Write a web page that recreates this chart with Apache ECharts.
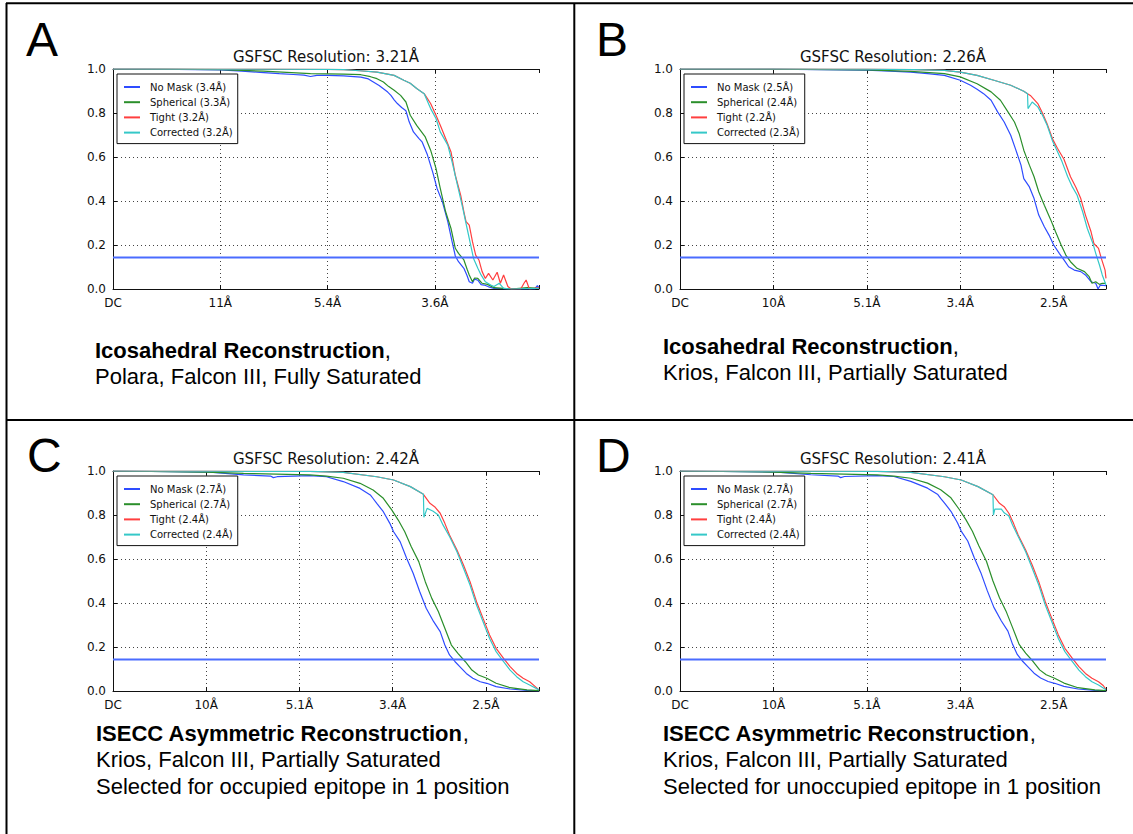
<!DOCTYPE html>
<html><head><meta charset="utf-8">
<script src="https://cdn.jsdelivr.net/npm/echarts@6/dist/echarts.min.js"></script>
<style>html,body{margin:0;padding:0;background:#fff}#chart{width:1133px;height:834px}</style>
</head><body><div id="chart"></div>
<script>
// ---------- tick labels ----------
const ticksA = ['DC', '11Å', '5.4Å', '3.6Å'];
const ticksB = ['DC', '10Å', '5.1Å', '3.4Å', '2.5Å'];
const ticksC = ['DC', '10Å', '5.1Å', '3.4Å', '2.5Å'];
const ticksD = ['DC', '10Å', '5.1Å', '3.4Å', '2.5Å'];
const threshold = 0.143;

// ---------- titles / legends / captions ----------
const titleA = 'GSFSC Resolution: 3.21Å';
const titleB = 'GSFSC Resolution: 2.26Å';
const titleC = 'GSFSC Resolution: 2.42Å';
const titleD = 'GSFSC Resolution: 2.41Å';
const namesA = ['No Mask (3.4Å)', 'Spherical (3.3Å)', 'Tight (3.2Å)', 'Corrected (3.2Å)'];
const namesB = ['No Mask (2.5Å)', 'Spherical (2.4Å)', 'Tight (2.2Å)', 'Corrected (2.3Å)'];
const namesC = ['No Mask (2.7Å)', 'Spherical (2.7Å)', 'Tight (2.4Å)', 'Corrected (2.4Å)'];
const namesD = ['No Mask (2.7Å)', 'Spherical (2.7Å)', 'Tight (2.4Å)', 'Corrected (2.4Å)'];
const captionA = ['Icosahedral Reconstruction', 'Polara, Falcon III, Fully Saturated'];
const captionB = ['Icosahedral Reconstruction', 'Krios, Falcon III, Partially Saturated'];
const captionC = ['ISECC Asymmetric Reconstruction', 'Krios, Falcon III, Partially Saturated', 'Selected for occupied epitope in 1 position'];
const captionD = ['ISECC Asymmetric Reconstruction', 'Krios, Falcon III, Partially Saturated', 'Selected for unoccupied epitope in 1 position'];

// ---------- curves: [x in tick units from DC, FSC] ----------
const A_noMask = [[0,1.0],[0.3,0.999],[0.6,0.998],[1.0,0.996],[1.2,0.99],[1.37,0.985],[1.55,0.979],[1.68,0.975],[1.78,0.972],[1.84,0.966],[1.9,0.971],[2.0,0.971],[2.15,0.969],[2.31,0.963],[2.38,0.955],[2.43,0.94],[2.48,0.925],[2.52,0.91],[2.56,0.895],[2.59,0.88],[2.62,0.86],[2.65,0.843],[2.69,0.825],[2.73,0.81],[2.76,0.76],[2.80,0.714],[2.85,0.685],[2.88,0.669],[2.93,0.61],[2.98,0.53],[3.02,0.457],[3.07,0.396],[3.12,0.306],[3.16,0.215],[3.19,0.15],[3.22,0.124],[3.27,0.094],[3.30,0.06],[3.32,0.033],[3.35,0.026],[3.37,0.045],[3.40,0.04],[3.43,0.02],[3.46,0.018],[3.50,0.01],[3.55,0.003],[3.7,0.0],[3.85,0.001],[3.93,0.0],[3.955,0.015],[3.97,0.006]];
const A_spherical = [[0,1.0],[0.5,0.999],[1.0,0.997],[1.4,0.99],[1.84,0.979],[2.0,0.978],[2.15,0.977],[2.31,0.974],[2.4,0.965],[2.46,0.956],[2.52,0.941],[2.57,0.92],[2.62,0.903],[2.68,0.88],[2.73,0.85],[2.77,0.79],[2.83,0.744],[2.91,0.691],[2.96,0.631],[3.01,0.548],[3.05,0.457],[3.10,0.351],[3.15,0.275],[3.19,0.185],[3.22,0.162],[3.27,0.132],[3.30,0.09],[3.32,0.064],[3.35,0.033],[3.37,0.05],[3.40,0.048],[3.44,0.026],[3.49,0.021],[3.55,0.006],[3.71,0.0],[3.86,0.006],[3.97,0.003]];
const A_tight = [[0,1.0],[1.0,0.999],[1.5,0.999],[2.0,0.998],[2.15,0.997],[2.3,0.992],[2.46,0.986],[2.62,0.971],[2.71,0.949],[2.77,0.935],[2.83,0.911],[2.90,0.888],[2.96,0.843],[3.01,0.79],[3.05,0.744],[3.10,0.684],[3.15,0.623],[3.19,0.517],[3.24,0.427],[3.27,0.351],[3.29,0.306],[3.32,0.29],[3.35,0.215],[3.38,0.154],[3.41,0.132],[3.44,0.079],[3.47,0.048],[3.50,0.071],[3.54,0.041],[3.58,0.076],[3.61,0.026],[3.64,0.064],[3.68,0.011],[3.71,0.0],[3.80,0.0],[3.83,0.026],[3.85,0.041],[3.88,0.0],[3.97,0.006]];
const A_corrected = [[0,1.0],[1.0,0.999],[1.5,0.999],[2.0,0.998],[2.15,0.997],[2.3,0.992],[2.46,0.986],[2.62,0.971],[2.71,0.949],[2.77,0.935],[2.83,0.911],[2.90,0.888],[2.96,0.82],[3.01,0.775],[3.05,0.714],[3.12,0.654],[3.16,0.578],[3.21,0.472],[3.26,0.366],[3.30,0.275],[3.33,0.207],[3.36,0.139],[3.40,0.094],[3.43,0.064],[3.47,0.033],[3.52,0.018],[3.55,0.011],[3.60,0.026],[3.64,0.003],[3.71,0.0],[3.97,0.003]];

const B_noMask = [[0,1.0],[1.0,0.999],[2.0,0.995],[2.25,0.99],[2.47,0.986],[2.65,0.979],[2.83,0.971],[3.00,0.949],[3.11,0.926],[3.18,0.908],[3.25,0.888],[3.33,0.858],[3.40,0.805],[3.47,0.759],[3.54,0.699],[3.59,0.638],[3.65,0.563],[3.68,0.502],[3.74,0.464],[3.79,0.411],[3.84,0.336],[3.90,0.283],[3.95,0.245],[4.00,0.2],[4.06,0.162],[4.11,0.132],[4.16,0.101],[4.22,0.086],[4.29,0.079],[4.34,0.064],[4.40,0.033],[4.45,0.026],[4.475,0.0],[4.50,0.018],[4.56,0.015]];
const B_spherical = [[0,1.0],[1.0,0.999],[2.0,0.996],[2.47,0.989],[2.83,0.979],[3.00,0.964],[3.18,0.933],[3.33,0.896],[3.43,0.858],[3.50,0.812],[3.58,0.759],[3.63,0.707],[3.68,0.631],[3.74,0.563],[3.79,0.51],[3.84,0.442],[3.90,0.381],[3.97,0.313],[4.02,0.26],[4.08,0.2],[4.13,0.154],[4.18,0.124],[4.25,0.094],[4.33,0.079],[4.38,0.056],[4.41,0.026],[4.45,0.033],[4.49,0.021],[4.52,0.026],[4.56,0.026]];
const B_tight = [[0,1.0],[1.0,1.0],[2.0,0.999],[2.5,0.997],[2.83,0.994],[3.00,0.986],[3.18,0.971],[3.36,0.949],[3.54,0.926],[3.68,0.899],[3.72,0.888],[3.75,0.88],[3.83,0.843],[3.88,0.80],[3.93,0.75],[3.99,0.68],[4.04,0.64],[4.11,0.59],[4.18,0.51],[4.24,0.46],[4.29,0.411],[4.34,0.336],[4.40,0.26],[4.43,0.207],[4.48,0.185],[4.51,0.139],[4.55,0.086],[4.56,0.048]];
const B_corrected = [[0,1.0],[1.0,1.0],[2.0,0.999],[2.5,0.997],[2.83,0.994],[3.00,0.986],[3.18,0.971],[3.36,0.949],[3.54,0.926],[3.68,0.899],[3.72,0.888],[3.725,0.82],[3.77,0.85],[3.83,0.828],[3.88,0.79],[3.93,0.744],[3.99,0.67],[4.04,0.625],[4.09,0.578],[4.15,0.51],[4.20,0.464],[4.25,0.427],[4.31,0.351],[4.36,0.275],[4.42,0.207],[4.45,0.162],[4.49,0.109],[4.52,0.064],[4.56,0.018]];

const C_noMask = [[0,1.0],[1.04,0.995],[1.40,0.982],[1.69,0.977],[1.72,0.97],[1.76,0.974],[2.11,0.979],[2.29,0.974],[2.47,0.952],[2.65,0.921],[2.76,0.891],[2.79,0.875],[2.83,0.853],[2.90,0.815],[2.97,0.762],[3.01,0.724],[3.08,0.679],[3.15,0.603],[3.22,0.535],[3.29,0.452],[3.36,0.376],[3.44,0.315],[3.51,0.27],[3.56,0.209],[3.61,0.164],[3.67,0.133],[3.72,0.111],[3.79,0.08],[3.86,0.058],[3.94,0.042],[4.01,0.035],[4.11,0.02],[4.26,0.009],[4.44,0.003],[4.57,0.0]];
const C_spherical = [[0,1.0],[1.0,0.995],[1.40,0.989],[2.11,0.982],[2.29,0.977],[2.47,0.967],[2.65,0.944],[2.79,0.914],[2.90,0.876],[2.99,0.823],[3.06,0.777],[3.13,0.724],[3.20,0.656],[3.28,0.588],[3.35,0.497],[3.42,0.421],[3.49,0.361],[3.56,0.285],[3.63,0.209],[3.70,0.171],[3.78,0.133],[3.85,0.095],[3.92,0.073],[4.01,0.058],[4.11,0.035],[4.26,0.015],[4.44,0.005],[4.57,0.002]];
const C_tight = [[0,1.0],[1.0,0.999],[2.11,0.998],[2.47,0.994],[2.83,0.974],[3.01,0.959],[3.19,0.929],[3.33,0.894],[3.40,0.853],[3.45,0.838],[3.51,0.808],[3.56,0.762],[3.61,0.709],[3.69,0.641],[3.76,0.573],[3.83,0.497],[3.90,0.406],[3.97,0.33],[4.04,0.255],[4.11,0.194],[4.19,0.148],[4.26,0.111],[4.33,0.08],[4.40,0.058],[4.47,0.042],[4.53,0.02],[4.57,0.005]];
const C_corrected = [[0,1.0],[1.0,0.999],[2.11,0.998],[2.47,0.994],[2.83,0.974],[3.01,0.959],[3.19,0.929],[3.33,0.894],[3.335,0.79],[3.37,0.83],[3.43,0.818],[3.49,0.80],[3.54,0.755],[3.61,0.702],[3.69,0.633],[3.76,0.558],[3.83,0.482],[3.90,0.391],[3.97,0.315],[4.04,0.239],[4.11,0.179],[4.19,0.133],[4.26,0.095],[4.33,0.065],[4.40,0.042],[4.47,0.027],[4.57,0.005]];

const D_noMask = [[0,1.0],[1.04,0.995],[1.40,0.983],[1.69,0.977],[1.72,0.97],[1.76,0.975],[2.11,0.979],[2.29,0.975],[2.47,0.953],[2.65,0.922],[2.76,0.893],[2.79,0.876],[2.83,0.855],[2.90,0.817],[2.97,0.765],[3.01,0.727],[3.08,0.682],[3.15,0.606],[3.22,0.538],[3.29,0.455],[3.36,0.38],[3.44,0.318],[3.51,0.272],[3.56,0.212],[3.61,0.166],[3.67,0.134],[3.72,0.112],[3.79,0.081],[3.86,0.059],[3.94,0.043],[4.01,0.035],[4.11,0.021],[4.26,0.009],[4.44,0.003],[4.56,0.0]];
const D_spherical = [[0,1.0],[1.0,0.995],[1.40,0.989],[2.11,0.982],[2.29,0.977],[2.47,0.967],[2.65,0.945],[2.79,0.915],[2.90,0.878],[2.99,0.825],[3.06,0.779],[3.13,0.726],[3.20,0.659],[3.28,0.59],[3.35,0.5],[3.42,0.424],[3.49,0.363],[3.56,0.288],[3.63,0.212],[3.70,0.172],[3.78,0.134],[3.85,0.096],[3.92,0.074],[4.01,0.058],[4.11,0.036],[4.26,0.015],[4.44,0.005],[4.56,0.002]];
const D_tight = [[0,1.0],[1.0,0.999],[2.11,0.998],[2.47,0.994],[2.83,0.974],[3.01,0.959],[3.19,0.929],[3.35,0.892],[3.42,0.853],[3.47,0.838],[3.52,0.808],[3.57,0.762],[3.62,0.709],[3.70,0.641],[3.77,0.573],[3.84,0.497],[3.91,0.406],[3.98,0.33],[4.05,0.255],[4.12,0.194],[4.20,0.148],[4.27,0.111],[4.34,0.08],[4.41,0.058],[4.48,0.042],[4.53,0.025],[4.56,0.008]];
const D_corrected = [[0,1.0],[1.0,0.999],[2.11,0.998],[2.47,0.994],[2.83,0.974],[3.01,0.959],[3.19,0.929],[3.35,0.892],[3.355,0.80],[3.37,0.827],[3.44,0.827],[3.47,0.81],[3.52,0.795],[3.56,0.755],[3.62,0.702],[3.70,0.633],[3.77,0.558],[3.84,0.482],[3.91,0.391],[3.98,0.315],[4.05,0.239],[4.12,0.179],[4.20,0.133],[4.27,0.095],[4.34,0.065],[4.41,0.042],[4.48,0.027],[4.56,0.006]];

// ---------- layout (positions & styles) ----------
const colors = ['#2e4cff', '#2b8f2b', '#ff3f3f', '#35c8c8'];
const thresholdColor = '#4a6cff';
const panels = [
  {letter:'A', ticks:ticksA, xMax:3.97, names:namesA, title:titleA, caption:captionA, data:[A_noMask,A_spherical,A_tight,A_corrected],
   grid:{left:113, top:69}, legend:{left:117, top:74}, letterPos:[26,39], titleY:57, capPos:[95,337]},
  {letter:'B', ticks:ticksB, xMax:4.56, names:namesB, title:titleB, caption:captionB, data:[B_noMask,B_spherical,B_tight,B_corrected],
   grid:{left:680, top:69}, legend:{left:684, top:74}, letterPos:[596,39], titleY:57, capPos:[663,333]},
  {letter:'C', ticks:ticksC, xMax:4.57, names:namesC, title:titleC, caption:captionC, data:[C_noMask,C_spherical,C_tight,C_corrected],
   grid:{left:113, top:471}, legend:{left:117, top:476}, letterPos:[27,455], titleY:459, capPos:[96,720]},
  {letter:'D', ticks:ticksD, xMax:4.56, names:namesD, title:titleD, caption:captionD, data:[D_noMask,D_spherical,D_tight,D_corrected],
   grid:{left:680, top:471}, legend:{left:684, top:476}, letterPos:[596,455], titleY:459, capPos:[663,720]}
];
const GW = 426, GH = 220;
const monoFont = 'DejaVu Sans';
const sansFont = 'Liberation Sans, Arial, sans-serif';

const grids = [], xAxes = [], yAxes = [], series = [], legends = [], graphics = [];
panels.forEach((p, i) => {
  grids.push({left:p.grid.left, top:p.grid.top, width:GW, height:GH});
  xAxes.push({
    type:'value', gridIndex:i, min:0, max:p.xMax, interval:1, position:'bottom',
    axisLine:{show:true, onZero:false, lineStyle:{color:'#111', width:1}},
    axisTick:{show:true, inside:true, length:4, lineStyle:{color:'#111'}},
    axisLabel:{show:true, margin:8, fontFamily:monoFont, fontSize:12, color:'#111',
      formatter:(v) => (Math.abs(v - Math.round(v)) < 1e-6 && p.ticks[Math.round(v)] !== undefined) ? p.ticks[Math.round(v)] : ''},
    splitLine:{show:true, showMinLine:false, showMaxLine:false, lineStyle:{color:'#444', width:1, type:[1,3]}}
  });
  xAxes.push({
    type:'value', gridIndex:i, min:0, max:p.xMax, interval:1, position:'top',
    axisLine:{show:true, onZero:false, lineStyle:{color:'#111', width:1}},
    axisTick:{show:true, inside:true, length:4, lineStyle:{color:'#111'}},
    axisLabel:{show:false}, splitLine:{show:false}
  });
  yAxes.push({
    type:'value', gridIndex:i, min:0, max:1, interval:0.2,
    axisLine:{show:true, onZero:false, lineStyle:{color:'#111', width:1}},
    axisTick:{show:true, inside:true, length:4, lineStyle:{color:'#111'}},
    axisLabel:{show:true, margin:7, fontFamily:monoFont, fontSize:12, color:'#111', formatter:(v) => v.toFixed(1)},
    splitLine:{show:true, showMinLine:false, showMaxLine:false, lineStyle:{color:'#444', width:1, type:[1,3]}}
  });
  p.data.forEach((d, k) => {
    series.push({type:'line', name:p.names[k], xAxisIndex:2*i, yAxisIndex:i, data:d,
      symbol:'none', showSymbol:false, smooth:false, silent:true,
      lineStyle:{color:colors[k], width:1.2}, itemStyle:{color:colors[k]}, z:2+k*0.1});
  });
  series.push({type:'line', name:'threshold'+i, xAxisIndex:2*i, yAxisIndex:i,
    data:[[0, threshold], [p.xMax, threshold]], symbol:'none', silent:true,
    lineStyle:{color:thresholdColor, width:2}, z:3});
  legends.push({
    left:p.legend.left, top:p.legend.top, orient:'vertical', data:p.names, selectedMode:false,
    icon:'rect', itemWidth:16, itemHeight:2, itemGap:3.2, padding:[7,5,5,7],
    borderColor:'#111', borderWidth:1, borderRadius:0, backgroundColor:'#fff', z:10,
    textStyle:{fontFamily:monoFont, fontSize:10, color:'#111', lineHeight:12, padding:[0,0,0,5]}
  });
  graphics.push({type:'text', x:p.letterPos[0], y:p.letterPos[1], z:20,
    style:{text:p.letter, fontFamily:sansFont, fontSize:48, fill:'#000', verticalAlign:'middle', align:'left'}});
  graphics.push({type:'text', x:p.grid.left + GW/2, y:p.titleY, z:20,
    style:{text:p.title, fontFamily:monoFont, fontSize:15, fill:'#111', align:'center', verticalAlign:'middle'}});
  const capLines = ['{b|' + p.caption[0] + '}{n|,}'].concat(p.caption.slice(1).map(s => '{n|' + s + '}'));
  graphics.push({type:'text', x:p.capPos[0], y:p.capPos[1], z:20,
    style:{text:capLines.join('\n'), align:'left', verticalAlign:'top', fill:'#000',
      rich:{
        b:{fontFamily:sansFont, fontSize:22, fontWeight:'bold', fill:'#000', lineHeight:26.5},
        n:{fontFamily:sansFont, fontSize:22, fill:'#000', lineHeight:26.5}
      }}});
});
// frame lines
const frame = [[6.5,3,6.5,834],[6,3.3,1133,3.3],[574.3,3,574.3,834],[6,420,1133,420]];
frame.forEach(f => graphics.push({type:'line', z:30, shape:{x1:f[0], y1:f[1], x2:f[2], y2:f[3]}, style:{stroke:'#000', lineWidth:2}}));

const chart = echarts.init(document.getElementById('chart'), null, {renderer:'svg'});
chart.setOption({
  animation:false,
  backgroundColor:'#fff',
  grid:grids, xAxis:xAxes, yAxis:yAxes, series:series, legend:legends, graphic:graphics
});
</script>
</body></html>
